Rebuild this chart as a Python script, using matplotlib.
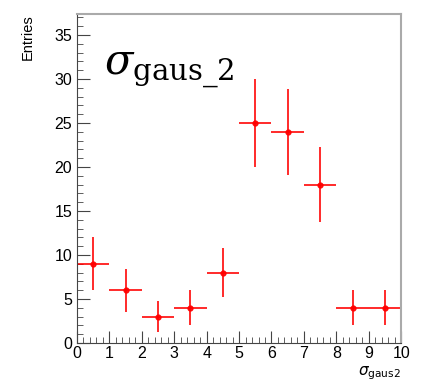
import numpy as np
import matplotlib.pyplot as plt
from matplotlib.ticker import MultipleLocator

# --- Histogram data (bin centres, contents, sqrt(N) errors) ---
bin_centres = [0.5, 1.5, 2.5, 3.5, 4.5, 5.5, 6.5, 7.5, 8.5, 9.5]
entries = [9, 6, 3, 4, 8, 25, 24, 18, 4, 4]
bin_half_width = [0.5] * 10
y_err = np.sqrt(entries)

plt.rcParams['font.family'] = ['Liberation Sans', 'DejaVu Sans']

fig = plt.figure(figsize=(4.25, 3.84), dpi=100)
ax = fig.add_axes([0.181, 0.107, 0.763, 0.857])

ax.errorbar(bin_centres, entries, xerr=bin_half_width, yerr=y_err, fmt='o',
            color='red', ms=3.5, elinewidth=1.3, capsize=0, alpha=0.9)

ax.set_xlim(0, 10)
ax.set_ylim(0, 37.4)
ax.xaxis.set_major_locator(MultipleLocator(1))
ax.xaxis.set_minor_locator(MultipleLocator(0.2))
ax.yaxis.set_major_locator(MultipleLocator(5))
ax.yaxis.set_minor_locator(MultipleLocator(1))
ax.tick_params(which='both', direction='in', colors='#444444', labelcolor='black',
               labelsize=11.5)
ax.tick_params(which='major', length=9)
ax.tick_params(which='minor', length=4.5)
ax.tick_params(axis='x', pad=2)
for s in ['left', 'bottom']:
    ax.spines[s].set_color('#444444')
for s in ['top', 'right']:
    ax.spines[s].set_color('#aaaaaa')
    ax.spines[s].set_linewidth(1.5)

ax.set_ylabel('Entries', fontsize=10.5, loc='top')
ax.yaxis.set_label_coords(-0.13, 1.0)
ax.set_xlabel(r'$\sigma_{\mathrm{gaus2}}$', fontsize=11, loc='right')
ax.xaxis.set_label_coords(1.0, -0.065)

ax.text(0.85, 30.4, r'$\sigma_{\mathrm{gaus\_2}}$', fontsize=30,
        math_fontfamily='dejavuserif', ha='left', va='baseline')

plt.savefig('out.png', dpi=100)
